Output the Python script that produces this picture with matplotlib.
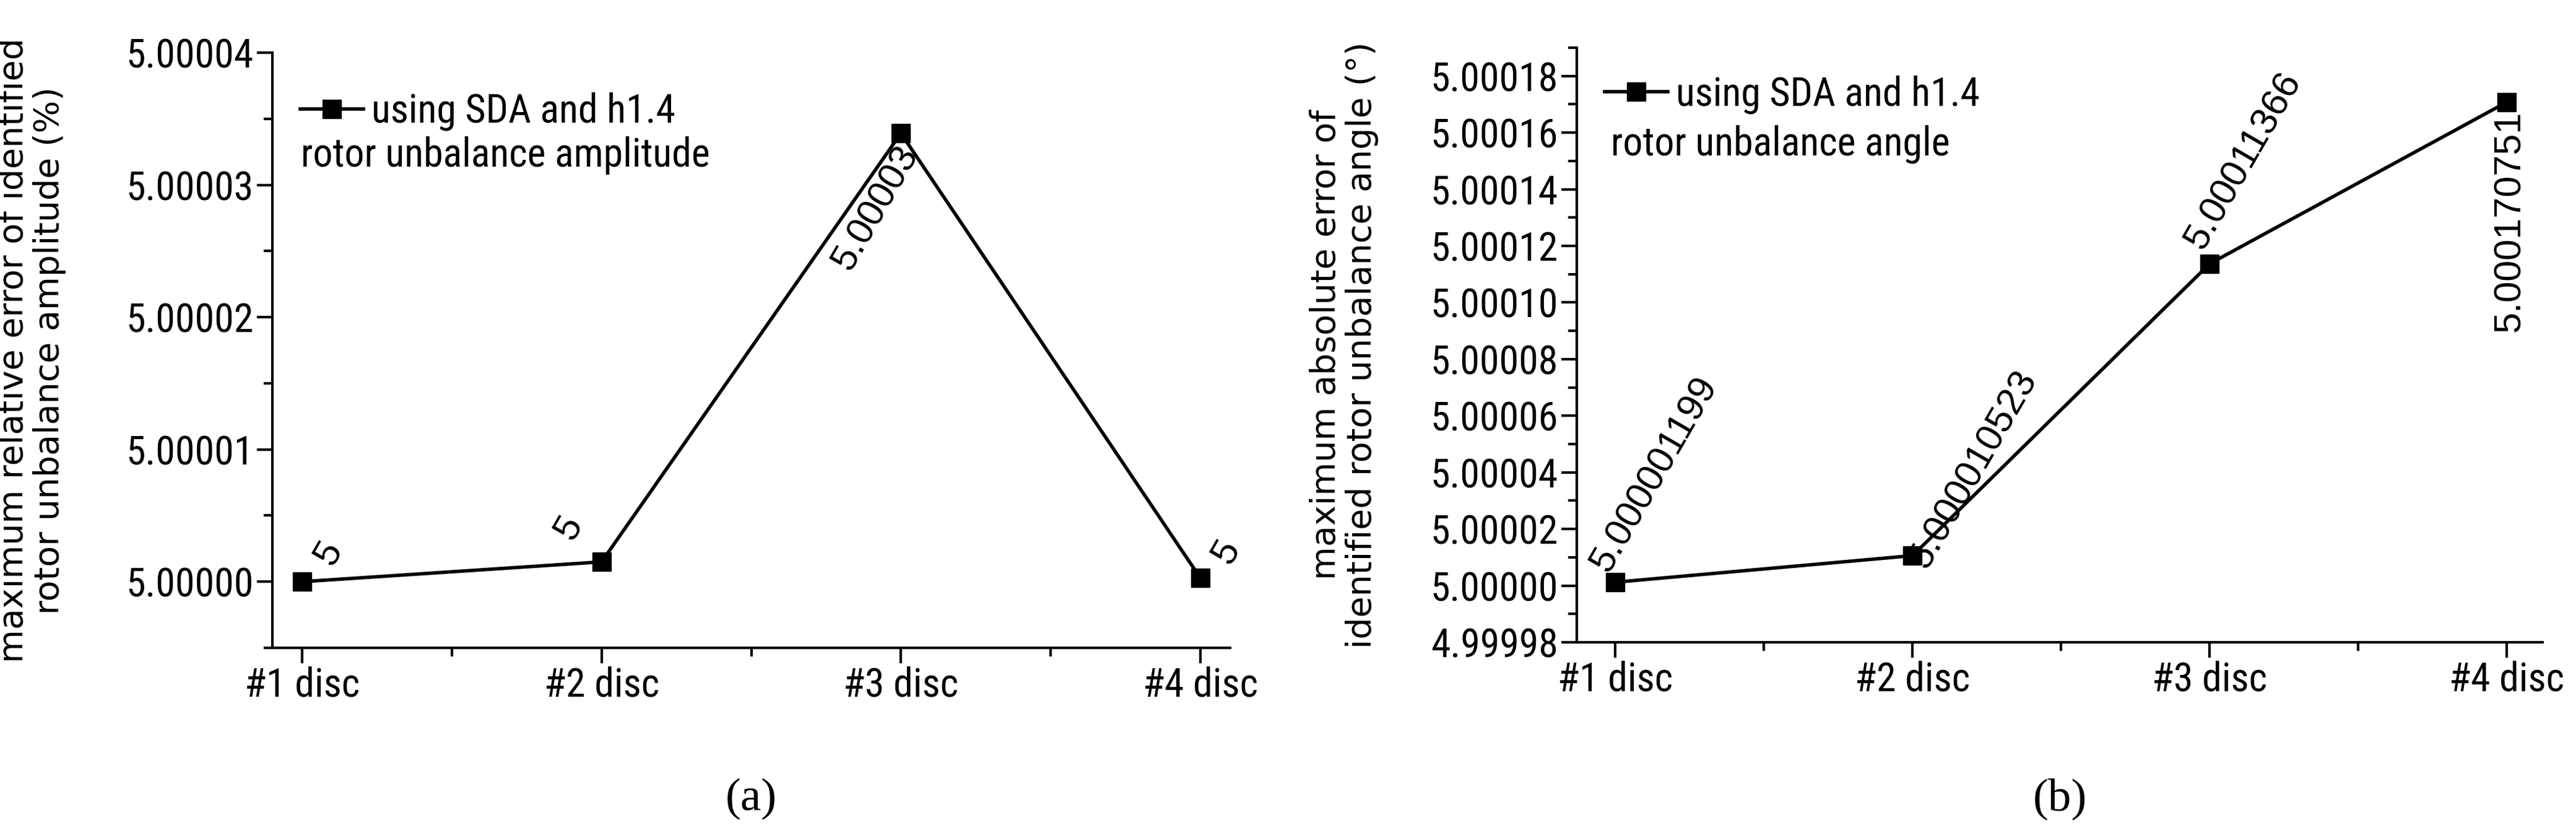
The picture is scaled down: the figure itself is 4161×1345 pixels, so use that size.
import matplotlib
matplotlib.use("Agg")
import matplotlib.pyplot as plt
from matplotlib.ticker import MultipleLocator, FormatStrFormatter
from matplotlib import font_manager as fm

cats = ["#1 disc", "#2 disc", "#3 disc", "#4 disc"]
amp = [5.0, 5.0000015, 5.0000339, 5.0000003]
amp_labels = ["5", "5", "5.00003", "5"]
ang = [5.0000012, 5.0000106, 5.0001137, 5.0001708]
ang_labels = ["5.000001199", "5.000010523", "5.00011366", "5.000170751"]

names = {f.name for f in fm.fontManager.ttflist}
narrow = "Liberation Sans Narrow" if "Liberation Sans Narrow" in names else "Roboto Condensed" if "Roboto Condensed" in names else "Liberation Sans"

fig = plt.figure(figsize=(41.61, 13.45), dpi=100)
ax1 = fig.add_axes([440/4161, 1 - 1046/1345, (1987-440)/4161, (1046-85)/1345])
ax2 = fig.add_axes([2547/4161, 1 - 1037/1345, (4107-2547)/4161, (1037-77)/1345])

TS = 46
x = list(range(len(cats)))
for ax in (ax1, ax2):
    for s in ("top", "right"):
        ax.spines[s].set_visible(False)
    for s in ("left", "bottom"):
        ax.spines[s].set_linewidth(3)
    ax.tick_params(which="major", direction="out", length=18, width=3, labelsize=TS)
    ax.tick_params(which="minor", direction="out", length=10, width=3)
    ax.set_xticks(x)
    ax.set_xticklabels(cats, fontfamily=narrow)
    ax.xaxis.set_minor_locator(MultipleLocator(0.5))

ax1.plot(x, amp, "-s", color="black", lw=4, ms=22, label="using SDA and h1.4")
ax1.set_xlim(-0.1, 3.1)
ax1.set_ylim(4.999995, 5.00004)
ax1.yaxis.set_major_locator(MultipleLocator(0.00001))
ax1.yaxis.set_minor_locator(MultipleLocator(0.000005))
ax1.yaxis.set_major_formatter(FormatStrFormatter("%.5f"))
ax1.set_ylabel("maximum relative error of identified\nrotor unbalance amplitude (%)", fontsize=40, linespacing=1.1)
ax1.yaxis.set_label_coords(-0.215, 0.5)
for t in ax1.get_yticklabels():
    t.set_fontfamily(narrow)
offs1 = [(0.02, 0.0000008, "left", "bottom"), (-0.04, 0.0000012, "right", "bottom"),
         (-0.02, -0.0000005, "right", "top"), (0.02, 0.0000006, "left", "bottom")]
for i, (lab, (dx, dy, ha, va)) in enumerate(zip(amp_labels, offs1)):
    ax1.text(x[i] + dx, amp[i] + dy, lab, rotation=60, fontsize=44, fontfamily="Liberation Sans",
             ha=ha, va=va, rotation_mode="anchor" if lab != "5" else "default")
ax1.legend(loc="upper left", bbox_to_anchor=(0.0, 0.98), frameon=False,
           handlelength=1.6, handletextpad=0.2, borderaxespad=0.3, prop={"family": narrow, "size": 46})
ax1.text(0.03, 0.86, "rotor unbalance amplitude", transform=ax1.transAxes, fontsize=46,
         fontfamily=narrow, va="top")

ax2.plot(x, ang, "-s", color="black", lw=4, ms=22, label="using SDA and h1.4")
ax2.set_xlim(-0.13, 3.12)
ax2.set_ylim(4.99998, 5.00019)
ax2.yaxis.set_major_locator(MultipleLocator(0.00002))
ax2.yaxis.set_minor_locator(MultipleLocator(0.00001))
ax2.yaxis.set_major_formatter(FormatStrFormatter("%.5f"))
ax2.set_ylabel("maximum absolute error of\nidentified rotor unbalance angle (°)", fontsize=40, linespacing=1.1)
ax2.yaxis.set_label_coords(-0.205, 0.5)
for t in ax2.get_yticklabels():
    t.set_fontfamily(narrow)
ax2.text(x[0] + 0.0, ang[0] + 0.0000015, ang_labels[0], rotation=60, fontsize=44,
         fontfamily="Liberation Sans", ha="left", va="bottom", rotation_mode="anchor")
ax2.text(x[1] + 0.07, ang[1] - 0.0000065, ang_labels[1], rotation=60, fontsize=44,
         fontfamily="Liberation Sans", ha="left", va="bottom", rotation_mode="anchor")
ax2.text(x[2] + 0.0, ang[2] + 0.000003, ang_labels[2], rotation=60, fontsize=44,
         fontfamily="Liberation Sans", ha="left", va="bottom", rotation_mode="anchor")
ax2.text(x[3] + 0.01, ang[3] - 0.000003, ang_labels[3], rotation=90, fontsize=44,
         fontfamily="Liberation Sans", ha="center", va="top")
ax2.legend(loc="upper left", bbox_to_anchor=(0.0, 1.0), frameon=False,
           handlelength=1.6, handletextpad=0.2, borderaxespad=0.3, prop={"family": narrow, "size": 46})
ax2.text(0.035, 0.87, "rotor unbalance angle", transform=ax2.transAxes, fontsize=46,
         fontfamily=narrow, va="top")

fig.text((440+1987)/2/4161, 1 - 1290/1345, "(a)", fontsize=54, fontfamily="Liberation Serif",
         ha="center", va="center")
fig.text((2547+4107)/2/4161, 1 - 1290/1345, "(b)", fontsize=54, fontfamily="Liberation Serif",
         ha="center", va="center")

fig.savefig("out.png", dpi=100)
